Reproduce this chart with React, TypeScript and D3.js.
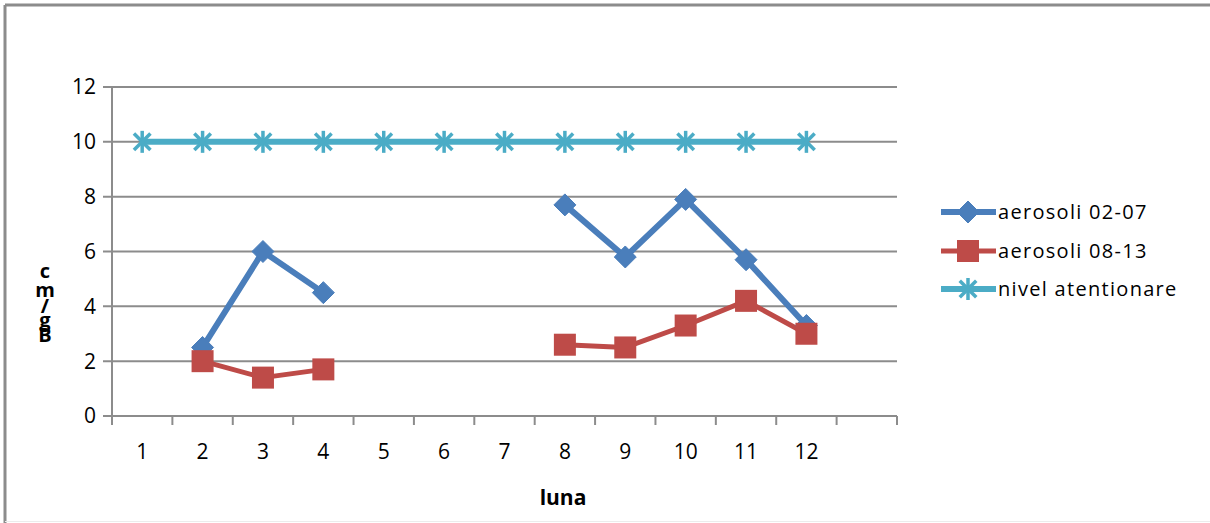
import React from "react";
import * as d3 from "d3";

const categories = ["1", "2", "3", "4", "5", "6", "7", "8", "9", "10", "11", "12", ""];
const aerosoli0207: (number | null)[] = [null, 2.5, 6.0, 4.5, null, null, null, 7.7, 5.8, 7.9, 5.7, 3.3, null];
const aerosoli0813: (number | null)[] = [null, 2.0, 1.4, 1.7, null, null, null, 2.6, 2.5, 3.3, 4.2, 3.0, null];
const nivelAtentionare: (number | null)[] = [10, 10, 10, 10, 10, 10, 10, 10, 10, 10, 10, 10, null];
const yTicks = [0, 2, 4, 6, 8, 10, 12];
const seriesNames = ["aerosoli 02-07", "aerosoli 08-13", "nivel atentionare"];
const yTitleChars = ["c", "m", "/", "g", "B"];

const W = 1210, H = 523;
const plot = { left: 112, right: 897, top: 87, bottom: 416 };
const FONT = "'Open Sans', 'Liberation Sans', sans-serif";
const GRID = "#8c8c8c";

const BLUE = "#4A7EBB", RED = "#BE4B48", CYAN = "#4BACC6";

function Marker({ type, x, y }: { type: string; x: number; y: number }) {
  if (type === "diamond") {
    const s = 11;
    return <path d={`M${x},${y - s}L${x + s},${y}L${x},${y + s}L${x - s},${y}Z`} fill={BLUE} stroke={BLUE} strokeWidth={1} strokeLinejoin="round" />;
  }
  if (type === "square") {
    const s = 11;
    return <rect x={x - s} y={y - s} width={2 * s} height={2 * s} fill={RED} />;
  }
  const r = 11;
  const d = r * 0.75;
  return (
    <g stroke={CYAN} strokeWidth={3.5}>
      <line x1={x} y1={y - r} x2={x} y2={y + r} />
      <line x1={x - d} y1={y - d} x2={x + d} y2={y + d} />
      <line x1={x - d} y1={y + d} x2={x + d} y2={y - d} />
    </g>
  );
}

export default function App() {
  const x = d3.scaleBand<string>().domain(categories.map((c, i) => String(i))).range([plot.left, plot.right]).padding(0);
  const cx = (i: number) => (x(String(i)) as number) + x.bandwidth() / 2;
  const y = d3.scaleLinear().domain([0, 12]).range([plot.bottom, plot.top]);

  const line = d3
    .line<number | null>()
    .defined((d) => d != null)
    .x((_, i) => cx(i))
    .y((d) => y(d as number));

  const series = [
    { name: seriesNames[0], data: aerosoli0207, color: BLUE, marker: "diamond", width: 6 },
    { name: seriesNames[1], data: aerosoli0813, color: RED, marker: "square", width: 5 },
    { name: seriesNames[2], data: nivelAtentionare, color: CYAN, marker: "star", width: 6 },
  ];

  const bandEdges = d3.range(categories.length + 1).map((i) => plot.left + i * x.bandwidth());
  const legendY = [212, 251, 289];

  return (
    <div style={{ position: "absolute", left: 0, top: 0 }}>
      <svg width={W} height={H} style={{ display: "block" }}>
        <rect x={0} y={0} width={W} height={H} fill="#fff" />
        {/* outer frame */}
        <line x1={5} y1={5} x2={W} y2={5} stroke={GRID} strokeWidth={3} />
        <line x1={5} y1={5} x2={5} y2={H} stroke={GRID} strokeWidth={3} />
        <line x1={5} y1={521.5} x2={W} y2={521.5} stroke="#ececec" strokeWidth={1} />

        {/* gridlines */}
        {yTicks.map((t) => (
          <g key={t}>
            <line x1={plot.left - 9} x2={plot.right} y1={y(t)} y2={y(t)} stroke={GRID} strokeWidth={2} />
            <text x={plot.left - 16} y={y(t)} dy="0.35em" textAnchor="end" fontFamily={FONT} fontSize={21} fill="#000">
              {t}
            </text>
          </g>
        ))}
        {/* y axis */}
        <line x1={plot.left} x2={plot.left} y1={plot.top} y2={plot.bottom + 8} stroke={GRID} strokeWidth={2} />
        {/* x axis ticks */}
        {bandEdges.map((e, i) => (
          <line key={i} x1={e} x2={e} y1={plot.bottom} y2={plot.bottom + 9} stroke={GRID} strokeWidth={2} />
        ))}
        {categories.map((c, i) => (
          <text key={i} x={cx(i)} y={452} dy="0.35em" textAnchor="middle" fontFamily={FONT} fontSize={21} fill="#000">
            {c}
          </text>
        ))}
        <text x={563} y={498} dy="0.35em" textAnchor="middle" fontFamily={FONT} fontSize={21} fontWeight="bold" fill="#000">
          luna
        </text>
        {/* y title stacked */}
        {yTitleChars.map((ch, i) => (
          <text key={i} x={45} y={[271, 290, 306, 320, 335][i]} dy="0.35em" textAnchor="middle" fontFamily={FONT} fontSize={20} fontWeight="bold" fill="#000">
            {ch}
          </text>
        ))}

        {/* series lines */}
        {series.map((s) => (
          <path key={s.name} d={line(s.data) || ""} fill="none" stroke={s.color} strokeWidth={s.width} strokeLinejoin="round" />
        ))}
        {series.map((s) => (
          <g key={s.name + "m"}>
            {s.data.map((d, i) => (d == null ? null : <Marker key={i} type={s.marker} x={cx(i)} y={y(d)} />))}
          </g>
        ))}

        {/* legend */}
        {series.map((s, i) => (
          <g key={s.name + "l"}>
            <line x1={941} x2={996} y1={legendY[i]} y2={legendY[i]} stroke={s.color} strokeWidth={s.width} />
            <Marker type={s.marker} x={968} y={legendY[i]} />
            <text x={998} y={legendY[i]} dy="0.35em" fontFamily={FONT} fontSize={20} letterSpacing={1.3} fill="#000">
              {s.name}
            </text>
          </g>
        ))}
      </svg>
    </div>
  );
}
